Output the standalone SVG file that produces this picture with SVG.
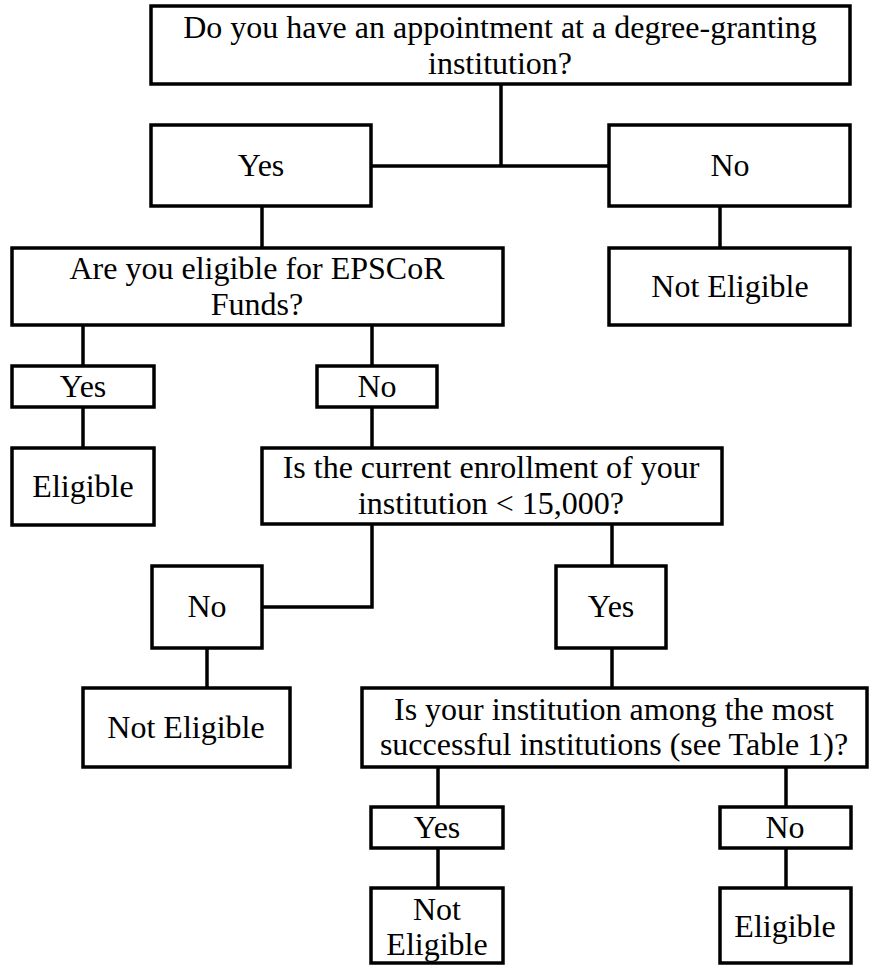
<svg xmlns="http://www.w3.org/2000/svg" width="870" height="966" viewBox="0 0 870 966">
<style>
rect{fill:#fff;stroke:#000;stroke-width:3.5}
text{font-family:"Liberation Serif","Times New Roman",Times,"DejaVu Serif",serif;font-size:32px;fill:#000;text-anchor:middle}
#connectors path{fill:none;stroke:#000;stroke-width:3.5}
</style>
<rect x="0" y="0" width="870" height="966" style="stroke:none"/>
<g id="connectors">
<path d="M501 84V166M371 166H609"/>
<path d="M262 206V248"/>
<path d="M720 206V248"/>
<path d="M83 325V366M83 407V448"/>
<path d="M372 325V366M372 407V448"/>
<path d="M372 524V607H262"/>
<path d="M612 524V566"/>
<path d="M207 648V688"/>
<path d="M612 648V688"/>
<path d="M438 767V807M438 848V888"/>
<path d="M786 767V807M786 848V888"/>
</g>
<g id="q1"><rect x="151" y="6" width="699" height="78"/><text x="500" y="38">Do you have an appointment at a degree-granting</text><text x="500" y="74">institution?</text></g>
<g id="yes1"><rect x="151" y="125" width="220" height="81"/><text x="261" y="176">Yes</text></g>
<g id="no1"><rect x="609" y="125" width="241" height="81"/><text x="730" y="176">No</text></g>
<g id="notelig1"><rect x="609" y="248" width="241" height="77"/><text x="730" y="297">Not Eligible</text></g>
<g id="q2"><rect x="12" y="248" width="491" height="77"/><text x="257" y="279">Are you eligible for EPSCoR</text><text x="257" y="315">Funds?</text></g>
<g id="yes2"><rect x="12" y="366" width="142" height="41"/><text x="83" y="397">Yes</text></g>
<g id="elig1"><rect x="12" y="448" width="142" height="77"/><text x="83" y="497">Eligible</text></g>
<g id="no2"><rect x="317" y="366" width="120" height="41"/><text x="377" y="397">No</text></g>
<g id="q3"><rect x="262" y="448" width="460" height="76"/><text x="491" y="478">Is the current enrollment of your</text><text x="491" y="514">institution &lt; 15,000?</text></g>
<g id="no3"><rect x="152" y="566" width="110" height="82"/><text x="207" y="617">No</text></g>
<g id="notelig2"><rect x="83" y="688" width="207" height="79"/><text x="186" y="738">Not Eligible</text></g>
<g id="yes3"><rect x="556" y="566" width="110" height="82"/><text x="611" y="617">Yes</text></g>
<g id="q4"><rect x="362" y="688" width="505" height="79"/><text x="614" y="720">Is your institution among the most</text><text x="614" y="755">successful institutions (see Table 1)?</text></g>
<g id="yes4"><rect x="371" y="807" width="132" height="41"/><text x="437" y="838">Yes</text></g>
<g id="notelig3"><rect x="371" y="888" width="132" height="75"/><text x="437" y="920">Not</text><text x="437" y="955">Eligible</text></g>
<g id="no4"><rect x="720" y="807" width="131" height="41"/><text x="785" y="838">No</text></g>
<g id="elig2"><rect x="720" y="888" width="131" height="75"/><text x="785" y="937">Eligible</text></g>
</svg>
